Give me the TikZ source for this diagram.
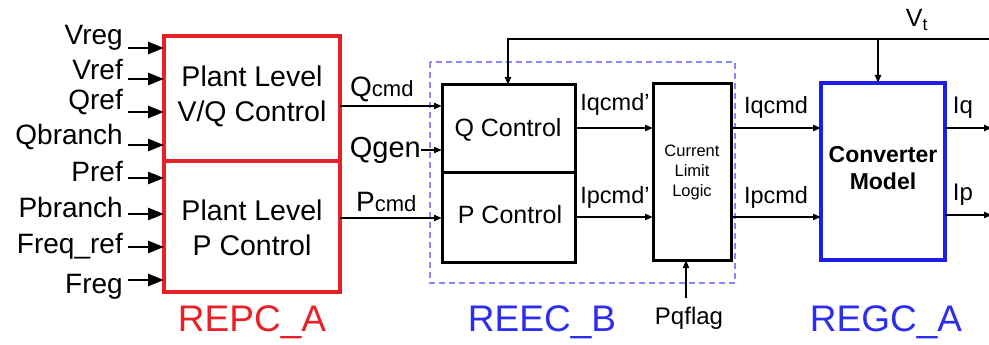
\documentclass[tikz,border=0pt]{standalone}
\usepackage{fontspec}
\setmainfont{Liberation Sans}
\usetikzlibrary{arrows.meta}
\definecolor{repcred}{RGB}{232,32,40}
\definecolor{regcblue}{RGB}{30,30,235}
\definecolor{lblblue}{RGB}{45,45,240}
\definecolor{dashblue}{RGB}{135,135,255}
\tikzset{
  inarrow/.style={line width=2.6pt,-{Triangle[length=16pt,width=12pt]}},
  sigarrow/.style={line width=2pt,-{Triangle[length=8pt,width=6pt]}},
  inlabel/.style={anchor=east,inner sep=0pt,font=\fontsize{28}{30}\selectfont},
  blocktext/.style={align=center,font=\fontsize{28.5}{35}\selectfont,inner sep=0pt},
  siglabel/.style={inner sep=0pt,font=\fontsize{23.5}{25}\selectfont},
  grouplabel/.style={inner sep=0pt,font=\fontsize{37}{39}\selectfont},
}
\begin{document}
\begin{tikzpicture}[x=1pt,y=-1pt]
\useasboundingbox (0,0) rectangle (989,345);
% REPC_A
\draw[repcred,line width=3.5pt] (164,36) rectangle (340,292);
\draw[repcred,line width=3.5pt] (164,161) -- (340,161);
\node[blocktext] (vq) at (252,96) {Plant Level\\V/Q Control};
\node[blocktext] (pc) at (252,228) {Plant Level\\P Control};
\node[grouplabel,text=repcred] (repc) at (252,322) {REPC\_A};
% inputs
\foreach \name/\txt/\yl/\ya in {vreg/Vreg/38/48, vref/Vref/70/79, qref/Qref/102/112, qbr/Qbranch/137/145, pref/Pref/172/178, pbr/Pbranch/207/214, fref/Freq\_ref/246/247, freg/Freg/287/280}{
  \node[inlabel] (\name) at (123,\yl) {\txt};
  \coordinate (\name s) at (128,\ya);
  \coordinate (\name e) at (164,\ya);
  \draw[inarrow] (\name s) -- (\name e);
}
% REEC_B dashed
\draw[dashblue,line width=1.5pt,dash pattern=on 6pt off 4pt] (430,62) rectangle (735,283);
\node[grouplabel,text=lblblue] (reec) at (542,322) {REEC\_B};
\draw[line width=3pt] (442,85) rectangle (575,262);
\draw[line width=3pt] (442,172) -- (575,172);
\node[inner sep=0pt,font=\fontsize{25}{27}\selectfont] (qctl) at (508,130) {Q Control};
\node[inner sep=0pt,font=\fontsize{25}{27}\selectfont] (pctl) at (510,215) {P Control};
\coordinate (qin) at (442,106);
\coordinate (gin) at (442,150);
\coordinate (pin) at (442,218);
\coordinate (qout) at (340,106);
\coordinate (pout) at (340,218);
\coordinate (gs) at (421,150);
\draw[sigarrow] (qout) -- (qin);
\draw[sigarrow] (pout) -- (pin);
\draw[sigarrow,line width=1.5pt] (gs) -- (gin);
\node[anchor=base west,inner sep=0pt,font=\fontsize{28}{30}\selectfont] (qcmd) at (350,97) {Q\fontsize{22}{23}\selectfont cmd};
\node[anchor=base west,inner sep=0pt,font=\fontsize{28}{30}\selectfont] (pcmd) at (356,211) {P\fontsize{22}{23}\selectfont cmd};
\node[anchor=east,inner sep=0pt,font=\fontsize{29}{30}\selectfont] (qgen) at (421,150) {Qgen};
% Current limit logic
\draw[line width=3pt] (653,84) rectangle (731,260);
\node[align=center,inner sep=0pt,font=\fontsize{16.5}{20}\selectfont] (cll) at (692,172) {Current\\Limit\\Logic};
\coordinate (cllq) at (653,128);
\coordinate (cllp) at (653,217);
\coordinate (qco) at (575,128);
\coordinate (pco) at (575,217);
\draw[sigarrow] (qco) -- (cllq);
\draw[sigarrow] (pco) -- (cllp);
\node[siglabel] (iqp) at (615,104) {Iqcmd'};
\node[siglabel] (ipp) at (615,197) {Ipcmd'};
\coordinate (pqs) at (686,298);
\coordinate (pqe) at (686,260);
\draw[line width=1.2pt,-{Triangle[length=8pt,width=6pt]}] (pqs) -- (pqe);
\node[inner sep=0pt,font=\fontsize{24}{26}\selectfont] (pqflag) at (689,318) {Pqflag};
% Converter
\draw[regcblue,line width=4pt] (821,83) rectangle (945,260);
\node[align=center,inner sep=0pt,font=\bfseries\fontsize{23}{27}\selectfont] (conv) at (883,168) {Converter\\Model};
\node[grouplabel,text=lblblue] (regc) at (886,322) {REGC\_A};
\coordinate (cvq) at (821,128);
\coordinate (cvp) at (821,217);
\coordinate (clq) at (731,128);
\coordinate (clp) at (731,217);
\draw[sigarrow] (clq) -- (cvq);
\draw[sigarrow] (clp) -- (cvp);
\node[siglabel] (iqcmd) at (776,107) {Iqcmd};
\node[siglabel] (ipcmd) at (776,197) {Ipcmd};
\coordinate (oq) at (945,128);
\coordinate (op) at (945,215);
\coordinate (oqe) at (992,128);
\coordinate (ope) at (992,215);
\draw[sigarrow] (oq) -- (oqe);
\draw[sigarrow] (op) -- (ope);
\node[siglabel,font=\fontsize{24}{26}\selectfont] (iq) at (963,108) {Iq};
\node[siglabel,font=\fontsize{24}{26}\selectfont] (ip) at (963,195) {Ip};
% Vt feedback
\coordinate (fbr) at (989,39);
\coordinate (fbl) at (508,39);
\coordinate (fbq) at (508,85);
\coordinate (vtj) at (878,39);
\coordinate (vtc) at (878,83);
\draw[line width=2pt,-{Triangle[length=8pt,width=6pt]}] (fbr) -- (fbl) -- (fbq);
\draw[sigarrow] (vtj) -- (vtc);
\node[inner sep=0pt,font=\fontsize{25}{27}\selectfont] (vt) at (917,20) {V\textsubscript{t}};
\end{tikzpicture}
\end{document}
